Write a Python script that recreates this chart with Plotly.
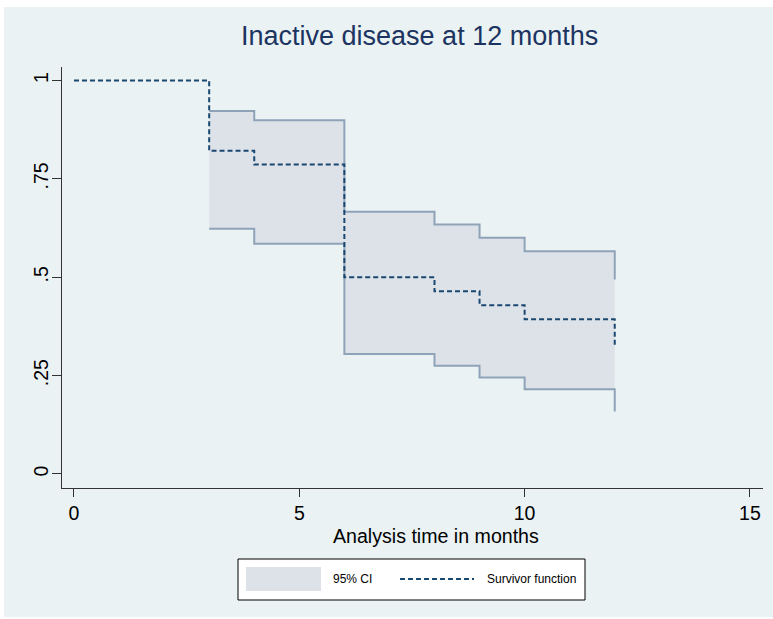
import plotly.graph_objects as go

# Kaplan-Meier survivor function
surv_time = [0, 3, 4, 6, 8, 9, 10, 12]
surv_value = [1.0, 0.821, 0.786, 0.500, 0.464, 0.429, 0.393, 0.321]

# 95% confidence interval
ci_time = [3, 4, 6, 8, 9, 10, 12]
ci_upper = [0.922, 0.899, 0.666, 0.634, 0.600, 0.566, 0.494]
ci_lower = [0.623, 0.585, 0.305, 0.275, 0.245, 0.2155, 0.159]

x_ticks = [0, 5, 10, 15]
y_ticks = [0, 0.25, 0.5, 0.75, 1]
y_tick_labels = ["0", ".25", ".5", ".75", "1"]

title_text = "Inactive disease at 12 months"
x_title = "Analysis time in months"
legend_labels = ["95% CI", "Survivor function"]

FONT = "Liberation Sans, Arial, Helvetica, sans-serif"
BG = "#EAF2F3"
NAVY = "#1A476F"
CI_FILL = "rgb(221,226,233)"
CI_LINE = "rgb(143,163,184)"

W, H = 773, 619
ML, MR, MT, MB = 62, 10, 67, 131
PW = W - ML - MR
PH = H - MT - MB

def px_x(p):
    return (p - ML) / PW

def px_y(p):
    return (H - MB - p) / PH

fig = go.Figure()

fig.add_trace(go.Scatter(
    x=ci_time, y=ci_upper, mode="lines", line_shape="hv",
    line=dict(color=CI_LINE, width=2), showlegend=False, hoverinfo="skip"))
fig.add_trace(go.Scatter(
    x=ci_time, y=ci_lower, mode="lines", line_shape="hv",
    line=dict(color=CI_LINE, width=2), fill="tonexty", fillcolor=CI_FILL,
    showlegend=False, hoverinfo="skip"))
fig.add_trace(go.Scatter(
    x=surv_time, y=surv_value, mode="lines", line_shape="hv",
    line=dict(color=NAVY, width=2, dash="5px,3px"), showlegend=False))

shapes = []
# outer background panel
shapes.append(dict(type="rect", xref="paper", yref="paper",
                   x0=px_x(4), x1=px_x(773), y0=px_y(617), y1=px_y(7),
                   fillcolor=BG, line=dict(width=0), layer="below"))
# legend box
shapes.append(dict(type="rect", xref="paper", yref="paper",
                   x0=px_x(238), x1=px_x(585), y0=px_y(600), y1=px_y(559),
                   fillcolor="white", line=dict(color="black", width=1)))
# legend swatch: CI
shapes.append(dict(type="rect", xref="paper", yref="paper",
                   x0=px_x(246), x1=px_x(321), y0=px_y(591), y1=px_y(567),
                   fillcolor=CI_FILL, line=dict(width=0)))
# legend swatch: survivor line
shapes.append(dict(type="line", xref="paper", yref="paper",
                   x0=px_x(400), x1=px_x(474), y0=px_y(579), y1=px_y(579),
                   line=dict(color=NAVY, width=2, dash="5px,3px")))

annotations = [
    dict(text=title_text, xref="paper", yref="paper", x=px_x(419), y=px_y(36),
         xanchor="center", yanchor="middle", showarrow=False,
         font=dict(family=FONT, size=27, color="#1C3461")),
    dict(text=x_title, xref="paper", yref="paper", x=px_x(435.5), y=px_y(536),
         xanchor="center", yanchor="middle", showarrow=False,
         font=dict(family=FONT, size=19.6, color="black")),
    dict(text=legend_labels[0], xref="paper", yref="paper", x=px_x(331), y=px_y(579),
         xanchor="left", yanchor="middle", showarrow=False,
         font=dict(family=FONT, size=12, color="black")),
    dict(text=legend_labels[1], xref="paper", yref="paper", x=px_x(485), y=px_y(579),
         xanchor="left", yanchor="middle", showarrow=False,
         font=dict(family=FONT, size=12, color="black")),
]

fig.update_layout(
    width=W, height=H,
    margin=dict(l=ML, r=MR, t=MT, b=MB, pad=0),
    paper_bgcolor="white", plot_bgcolor="white",
    font=dict(family=FONT, color="black"),
    shapes=shapes, annotations=annotations,
    showlegend=False,
    xaxis=dict(
        range=[-0.266, 15.29], tickvals=x_ticks, ticks="outside", ticklen=8,
        tickcolor="#333333", tickwidth=1, showgrid=False, zeroline=False,
        showline=True, linecolor="#333333", linewidth=1,
        tickfont=dict(family=FONT, size=19.5, color="black"),
    ),
    yaxis=dict(
        range=[-0.0356, 1.034], tickvals=y_ticks, ticktext=y_tick_labels,
        tickangle=-90, ticks="outside", ticklen=9, ticklabelstandoff=-4,
        tickcolor="#333333", tickwidth=1, showgrid=True, gridcolor=BG, gridwidth=1,
        zeroline=False, showline=True, linecolor="#333333", linewidth=1,
        tickfont=dict(family=FONT, size=19.5, color="black"),
    ),
)

fig.write_html("out.html", config={"displayModeBar": False},
               post_script="document.body.style.margin='0px';document.body.style.overflow='hidden';")
